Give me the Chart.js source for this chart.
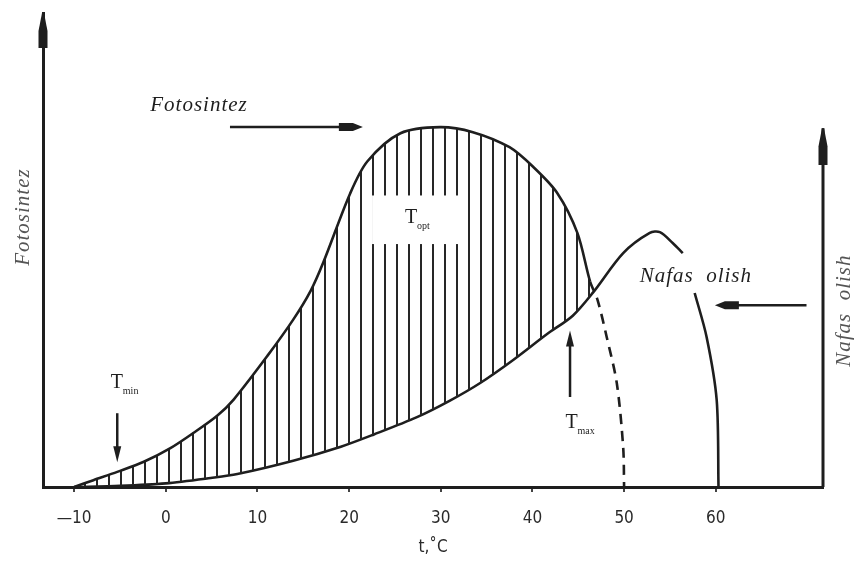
<!DOCTYPE html>
<html>
<head>
<meta charset="utf-8">
<script src="https://cdn.jsdelivr.net/npm/chart.js@4.4.0/dist/chart.umd.min.js"></script>
<style>
  html, body { margin: 0; padding: 0; background: #fff; }
  #wrap { width: 854px; height: 561px; position: relative; }
</style>
</head>
<body>
<div id="wrap"><canvas id="grafico" width="854" height="561"></canvas></div>
<script>
// temperatura (t, °C) va nisbiy qiymatlar
const tickLabels = [-10, 0, 10, 20, 30, 40, 50, 60];

const fotoT = [-10, -7.9, -5.3, -2.4, 0.5, 3.0, 5.6, 7.4, 11.1, 13.9, 15.8, 17.2, 20.1, 22.0, 25.6, 29.9, 33.5, 37.5, 40.1, 42.7, 44.9, 46.3, 47.1, 48.1, 49.2, 49.9, 50.0];
const fotoV = [0, 1.9, 4.2, 7.0, 10.8, 15.0, 19.8, 24.3, 36.5, 46.5, 54.5, 62.5, 81.5, 90.5, 98.3, 100, 98.6, 94.4, 88.9, 81.7, 70.6, 57.0, 52.0, 41.7, 28.9, 11.0, 0];

const nafasT = [-10, -5, 0, 4.9, 7.8, 13.9, 19.1, 22.7, 27.4, 31.0, 34.3, 37.9, 41.6, 44.4, 46.6, 49.9, 52.8, 53.9, 55.3, 56.4, 57.0, 57.7, 59.0, 60.1, 60.3];
const nafasV = [0, 0.3, 1.0, 2.5, 3.6, 7.3, 11.2, 14.6, 19.4, 24.0, 28.9, 35.3, 42.5, 47.6, 54.0, 65.0, 70.6, 70.8, 67.8, 65.0, null, 53.9, 41.7, 24.2, 0];

const ink = '#1e1e1e';
const serif = '"Liberation Serif", "DejaVu Serif", serif';
const narrow = '"Liberation Sans Narrow", "DejaVu Sans Condensed", sans-serif';

function toPoints(xs, ys) {
  return xs.map((x, i) => ({ x: x, y: ys[i] }));
}

const ctx = document.getElementById('grafico').getContext('2d');

// vertikal shtrixlash uchun naqsh
const hc = document.createElement('canvas');
hc.width = 12; hc.height = 8;
const hg = hc.getContext('2d');
hg.fillStyle = '#262626';
hg.fillRect(0, 0, 2, 8);
const shtrix = ctx.createPattern(hc, 'repeat');

function arrowH(c, x1, x2, y) {
  const dir = x2 > x1 ? 1 : -1;
  c.strokeStyle = ink; c.fillStyle = ink; c.lineWidth = 2.5;
  c.beginPath(); c.moveTo(x1, y); c.lineTo(x2 - dir * 18, y); c.stroke();
  c.beginPath();
  c.moveTo(x2, y);
  c.lineTo(x2 - dir * 10, y - 4);
  c.lineTo(x2 - dir * 24, y - 4);
  c.lineTo(x2 - dir * 24, y + 4);
  c.lineTo(x2 - dir * 10, y + 4);
  c.closePath(); c.fill();
}

function arrowV(c, x, y1, y2, head) {
  const dir = y2 > y1 ? 1 : -1;
  c.strokeStyle = ink; c.fillStyle = ink; c.lineWidth = 2.5;
  c.beginPath(); c.moveTo(x, y1); c.lineTo(x, y2 - dir * 10); c.stroke();
  c.beginPath();
  c.moveTo(x, y2);
  c.lineTo(x - head, y2 - dir * 16);
  c.lineTo(x + head, y2 - dir * 16);
  c.closePath(); c.fill();
}

function spike(c, x, yTip, yEnd) {
  c.fillStyle = ink;
  c.beginPath();
  c.moveTo(x - 1, yTip);
  c.lineTo(x + 1, yTip);
  c.lineTo(x + 4.5, yTip + 18);
  c.lineTo(x + 4.5, yEnd);
  c.lineTo(x - 4.5, yEnd);
  c.lineTo(x - 4.5, yTip + 18);
  c.closePath(); c.fill();
}

function tLabel(c, x, y, sub) {
  c.fillStyle = ink;
  c.textAlign = 'left'; c.textBaseline = 'alphabetic';
  c.font = '20px ' + serif;
  c.fillText('T', x, y);
  c.font = '10px ' + serif;
  c.fillText(sub, x + 12, y + 6);
}

const belgilar = {
  id: 'belgilar',
  afterDatasetsDraw(chart) {
    const c = chart.ctx;
    const xs = chart.scales.x, ys = chart.scales.y;
    const a = chart.chartArea;
    const X = v => xs.getPixelForValue(v);
    const Y = v => ys.getPixelForValue(v);
    c.save();

    // T_opt uchun oq joy
    c.fillStyle = '#fff';
    c.fillRect(X(22.5), Y(81), X(32.1) - X(22.5), Y(67.5) - Y(81));
    tLabel(c, X(26.1), Y(73.3), 'opt');

    // o'qlar
    spike(c, a.left, a.top, a.top + 35);
    c.strokeStyle = ink; c.lineWidth = 3;
    c.beginPath(); c.moveTo(a.right, Y(99.7)); c.lineTo(a.right, a.bottom); c.stroke();
    spike(c, a.right, Y(99.7), Y(89.5));

    // matnlar
    c.fillStyle = ink;
    c.font = 'italic 21px ' + serif;
    c.letterSpacing = '1px';
    c.textAlign = 'left'; c.textBaseline = 'middle';
    c.fillText('Fotosintez', X(-1.7), Y(106));
    arrowH(c, X(7), X(21.5), Y(100));
    c.fillText('Nafas  olish', X(51.7), Y(58.6));
    arrowH(c, X(69.9), X(59.9), Y(50.5));

    c.fillStyle = '#555';
    c.font = 'italic 21px ' + serif;
    c.textAlign = 'center';
    c.save(); c.translate(23, Y(75)); c.rotate(-Math.PI / 2);
    c.fillText('Fotosintez', 0, 0); c.restore();
    c.save(); c.translate(844, Y(49)); c.rotate(-Math.PI / 2);
    c.fillText('Nafas  olish', 0, 0); c.restore();
    c.letterSpacing = '0px';

    // T_min va T_max
    tLabel(c, X(-6), Y(27.5), 'min');
    arrowV(c, X(-5.3), Y(20.5), Y(6.9), 4);
    tLabel(c, X(43.6), Y(16.4), 'max');
    arrowV(c, X(44.1), Y(25), Y(43.5), 4);

    c.restore();
  }
};

new Chart(ctx, {
  type: 'line',
  data: {
    datasets: [
      {
        label: 'Fotosintez',
        data: toPoints(fotoT, fotoV),
        borderColor: ink,
        borderWidth: 2.6,
        pointRadius: 0,
        tension: 0.3,
        fill: { target: 1, above: shtrix, below: 'rgba(0,0,0,0)' },
        segment: {
          borderDash: s => s.p0.parsed.x >= 46.3 ? [10, 7] : undefined
        }
      },
      {
        label: 'Nafas olish',
        data: toPoints(nafasT, nafasV),
        borderColor: ink,
        borderWidth: 2.6,
        pointRadius: 0,
        spanGaps: false,
        tension: 0.3,
        fill: false
      }
    ]
  },
  options: {
    responsive: false,
    animation: false,
    devicePixelRatio: 1,
    layout: { padding: { left: 43, right: 31, top: 13, bottom: 0 } },
    plugins: {
      legend: { display: false },
      tooltip: { enabled: false }
    },
    scales: {
      x: {
        type: 'linear',
        min: -13.4,
        max: 71.7,
        afterBuildTicks: s => { s.ticks = tickLabels.map(v => ({ value: v })); },
        afterFit: s => { s.height = 74; },
        ticks: {
          color: '#2a2a2a',
          padding: 16,
          font: { family: narrow, size: 17 },
          callback: v => v < 0 ? '\u2014' + Math.abs(v) : '' + v
        },
        grid: { display: true, drawOnChartArea: false, drawTicks: true, tickLength: 5, color: '#444', lineWidth: 2 },
        border: { color: ink, width: 3 },
        title: {
          display: true,
          text: 't,\u02daC',
          color: '#2a2a2a',
          font: { family: narrow, size: 17 },
          padding: { top: 0, bottom: 3 }
        }
      },
      y: {
        type: 'linear',
        min: 0,
        max: 131.7,
        afterFit: s => { s.width = 0; },
        ticks: { display: false },
        grid: { display: false },
        border: { color: ink, width: 3 }
      }
    }
  },
  plugins: [belgilar]
});
</script>
</body>
</html>
